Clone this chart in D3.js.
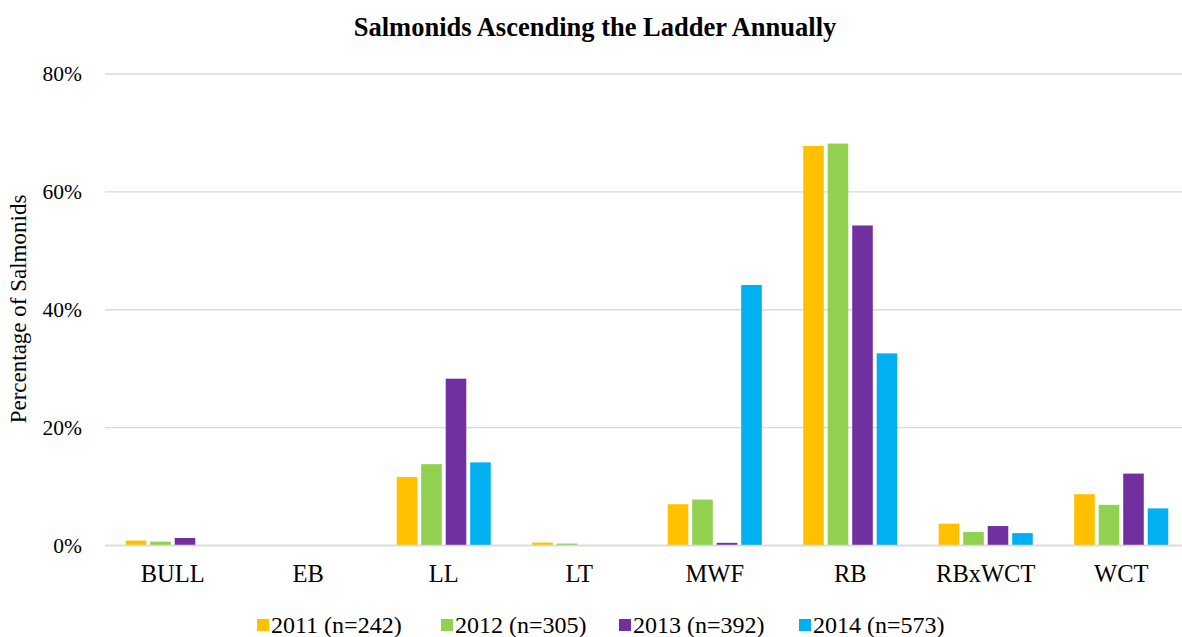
<!DOCTYPE html>
<html>
<head>
<meta charset="utf-8">
<script src="https://cdn.jsdelivr.net/npm/d3@7"></script>
<style>
  body { margin: 0; background: #fff; }
  text { font-family: "Liberation Serif", "Times New Roman", serif; fill: #000; }
</style>
</head>
<body>
<div class="chart"></div>
<script>
// categories (species codes)
var categories = ['BULL', 'EB', 'LL', 'LT', 'MWF', 'RB', 'RBxWCT', 'WCT'];
var years = ['2011 (n=242)', '2012 (n=305)', '2013 (n=392)', '2014 (n=573)'];
var colors = ['#FFC000', '#92D050', '#7030A0', '#00B0F0'];

// percentage of salmonids per year, one value per category
var v2011 = [0.83, 0, 11.6, 0.5, 7.0, 67.8, 3.7, 8.7];
var v2012 = [0.66, 0, 13.8, 0.33, 7.8, 68.2, 2.3, 6.9];
var v2013 = [1.28, 0, 28.3, 0, 0.45, 54.3, 3.3, 12.2];
var v2014 = [0, 0, 14.1, 0, 44.2, 32.6, 2.1, 6.3];
var yTicks = [0, 20, 40, 60, 80];

var series = [v2011, v2012, v2013, v2014];

var width = 1182, height = 637;
var font = '"Liberation Serif", "Times New Roman", serif';

var svg = d3.select('.chart')
  .append('svg')
  .attr('width', width)
  .attr('height', height);

// plot area runs a little past the right edge, like the cropped original
var x0 = d3.scaleBand()
  .domain(categories)
  .range([105, 1189])
  .paddingInner(0.306)
  .paddingOuter(0.153);

var x1 = d3.scaleBand()
  .domain(d3.range(years.length))
  .range([0, x0.bandwidth()])
  .paddingInner(0.16);

var y = d3.scaleLinear()
  .domain([0, 80])
  .range([545.5, 74]);

// gridlines
svg.append('g')
  .selectAll('line')
  .data(yTicks)
  .enter()
  .append('line')
  .attr('x1', 105)
  .attr('x2', width)
  .attr('y1', d => y(d))
  .attr('y2', d => y(d))
  .attr('stroke', '#d9d9d9')
  .attr('stroke-width', 1.3);

// y axis labels
var yAxis = d3.axisLeft(y)
  .tickValues(yTicks)
  .tickFormat(d => d + '%')
  .tickSize(0)
  .tickPadding(0);

svg.append('g')
  .attr('transform', 'translate(82,0)')
  .call(yAxis)
  .call(g => g.select('.domain').remove())
  .selectAll('text')
  .style('font-family', font)
  .style('font-size', '21.5px')
  .attr('fill', '#000');

// bars
var groups = svg.append('g')
  .selectAll('g')
  .data(series)
  .enter()
  .append('g')
  .attr('fill', (d, i) => colors[i]);

groups.selectAll('rect')
  .data((d, i) => d.map((v, j) => ({ cat: categories[j], v: v, s: i })))
  .enter()
  .filter(d => d.v > 0)
  .append('rect')
  .attr('x', d => x0(d.cat) + x1(d.s))
  .attr('y', d => y(d.v))
  .attr('width', x1.bandwidth())
  .attr('height', d => y(0) - y(d.v));

// baseline
svg.append('line')
  .attr('x1', 105)
  .attr('x2', width)
  .attr('y1', y(0))
  .attr('y2', y(0))
  .attr('stroke', '#d9d9d9')
  .attr('stroke-width', 1.5);

// x axis labels
var xAxis = d3.axisBottom(x0)
  .tickSize(0)
  .tickPadding(0);

svg.append('g')
  .attr('transform', 'translate(0,582)')
  .call(xAxis)
  .call(g => g.select('.domain').remove())
  .selectAll('text')
  .attr('dy', 0)
  .style('font-family', font)
  .style('font-size', '24.5px')
  .attr('fill', '#000');

// title
svg.append('text')
  .attr('x', 595)
  .attr('y', 36)
  .attr('text-anchor', 'middle')
  .style('font-size', '26.5px')
  .style('font-weight', 'bold')
  .text('Salmonids Ascending the Ladder Annually');

// y axis title
svg.append('text')
  .attr('transform', 'translate(26,309) rotate(-90)')
  .attr('text-anchor', 'middle')
  .style('font-size', '23px')
  .text('Percentage of Salmonids');

// legend
var legendX = [257, 441, 619, 799];
var legend = svg.append('g')
  .selectAll('g')
  .data(years)
  .enter()
  .append('g')
  .attr('transform', (d, i) => 'translate(' + legendX[i] + ',619)');

legend.append('rect')
  .attr('width', 12)
  .attr('height', 12)
  .attr('fill', (d, i) => colors[i]);

legend.append('text')
  .attr('x', 14)
  .attr('y', 14)
  .style('font-size', '24px')
  .text(d => d);
</script>
</body>
</html>
